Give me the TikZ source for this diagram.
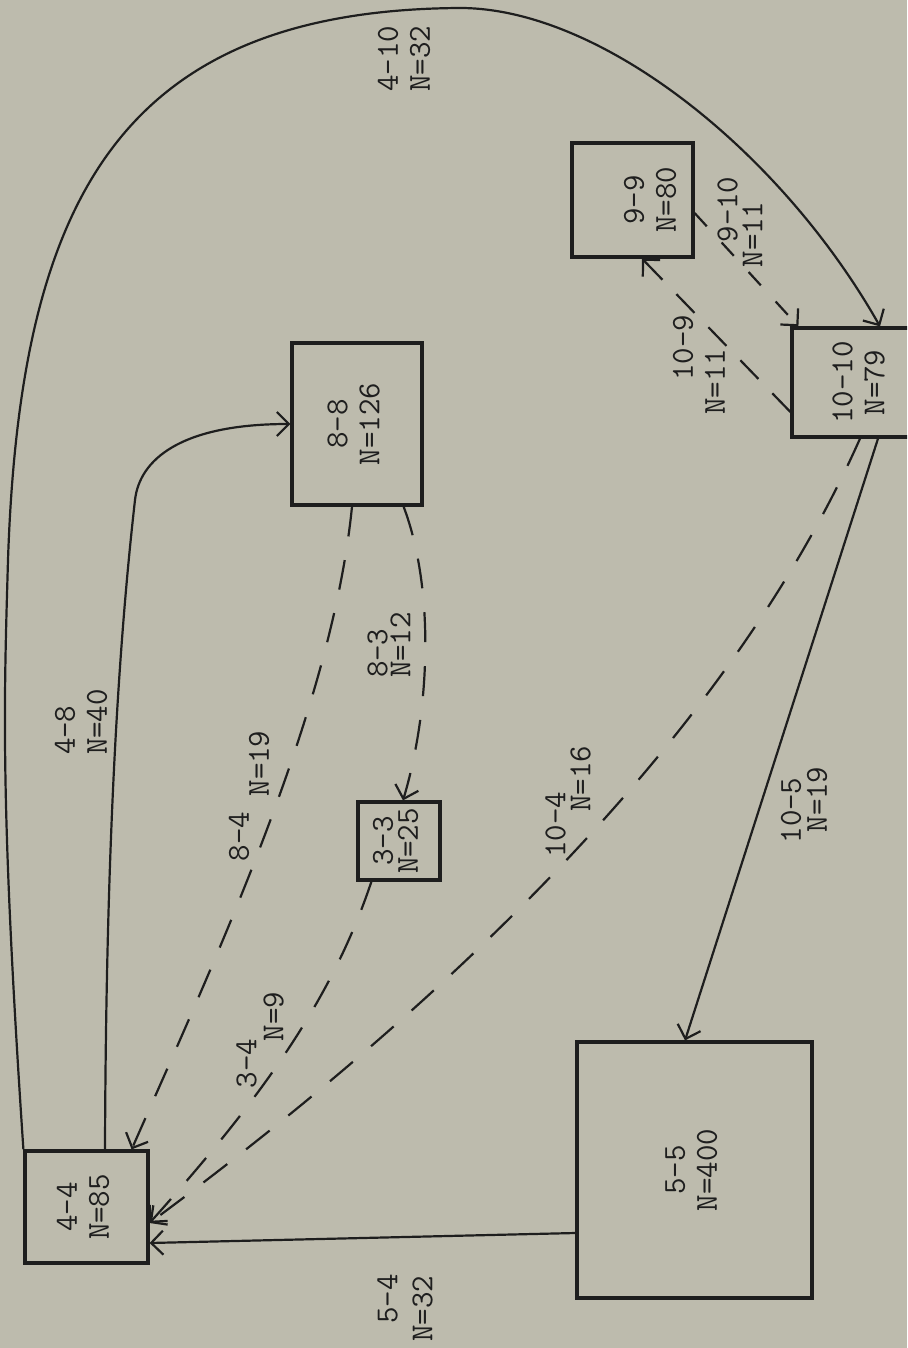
\documentclass[tikz,border=0pt]{standalone}
\usepackage{graphicx}
\usepackage{xcolor}
\usetikzlibrary{arrows.meta}

\definecolor{paper}{HTML}{BDBBAD}
\definecolor{ink}{HTML}{1E1E1E}

% two typed lines, turned to read upwards
\newcommand{\boxtext}[3][0pt]{\rotatebox{90}{\begin{tabular}{@{}c@{}}#2\\[#1]#3\end{tabular}}}

\begin{document}
\begin{tikzpicture}[x=0.5pt, y=-0.5pt,
    every node/.style={font=\fontsize{16}{16}\selectfont\ttfamily, text=ink},
    statebox/.style={draw=ink, line width=1.6pt, inner sep=0pt},
    lbl/.style={rotate=90, align=left, inner sep=0pt},
    flow/.style={draw=ink, line width=1.1pt, -{Straight Barb[length=6pt,width=12pt]}},
    dflow/.style={flow, dash pattern=on 15pt off 12pt}]
    \useasboundingbox (0,0) rectangle (907,1348);
    \fill[paper] (0,0) rectangle (907,1348);
    \clip (0,0) rectangle (907,1348);

    % States
    \node[statebox, minimum width=61.5pt, minimum height=56pt] (n44) at (86.5,1207) {\boxtext{4-4}{N=85}};
    \node[statebox, minimum width=117.5pt, minimum height=128pt] (n55) at (694.5,1170) {\boxtext{5-5}{N=400}};
    \node[statebox, minimum width=41pt, minimum height=39pt] (n33) at (399,841) {\boxtext[-3.5pt]{3-3}{N=25}};
    \node[statebox, minimum width=65pt, minimum height=81pt] (n88) at (357,424) {\boxtext{8-8}{N=126}};
    \node[statebox, minimum width=60.5pt, minimum height=57pt] (n99) at (632.5,200) {\hspace*{21pt}\boxtext{9-9}{N=80}};
    \node[statebox, minimum width=70pt, minimum height=54.5pt] (n1010) at (862,382.5) {\boxtext{10-10}{N=79}};

    % Transitions
    \draw[flow] (n44.north west) .. controls (0,800) and (4,700) .. (8,560)
        .. controls (20,200) and (120,10) .. (460,8)
        .. controls (600,8) and (780,150) .. ([xshift=9pt]n1010.north);
    \draw[flow] ([xshift=9.25pt]n44.north) .. controls (106,850) and (118,650) .. (135,500)
        .. controls (139.5,460) and (180,424) .. (n88.west);
    \draw[dflow] ([xshift=-2.5pt]n88.south) .. controls (332,707) and (220,949) .. ([xshift=-9pt]n44.north east);
    \draw[dflow] ([xshift=-10pt]n88.south east) .. controls (435,590) and (430,710) .. ([xshift=2pt]n33.north);
    \draw[dflow] ([xshift=7.5pt]n33.south west) .. controls (331,1003) and (257,1103) .. ([yshift=-8pt]n44.east);
    \draw[dflow] ([xshift=-1pt]n1010.south) .. controls (743,702) and (500,963) .. ([yshift=-8pt]n44.east);
    \draw[flow] ([xshift=8pt]n1010.south) -- ([xshift=-4.75pt]n55.north);
    \draw[flow] ([yshift=-31.5pt]n55.west) -- ([yshift=-18pt]n44.east);
    \draw[dflow, dash pattern=on 9pt off 11pt] ([yshift=-6.5pt]n99.east) -- ([xshift=4pt]n1010.north west);
    \draw[dflow, dash pattern=on 13pt off 10pt] ([yshift=-14.75pt]n1010.west) -- ([xshift=4.75pt]n99.south);

    % Labels
    \node[lbl] (l410) at (404,59) {4-10\\N=32};
    \node[lbl] (l910) at (740,222) {\hspace*{12.5pt}9-10\\[-3.5pt]N=11};
    \node[lbl] (l109) at (699,365) {\hspace*{17pt}10-9\\N=11};
    \node[lbl] (l48) at (81,722) {4-8\\N=40};
    \node[lbl] (l84) at (249,796) {8-4\\[-6pt]\hspace*{32.5pt}N=19};
    \node[lbl] (l83) at (389,645) {8-3\\[-4.5pt]N=12};
    \node[lbl] (l34) at (260,1040) {3-4\\[-2.5pt]\hspace*{23.5pt}N=9};
    \node[lbl] (l104) at (568,802) {10-4\\[-3.5pt]\hspace*{23pt}N=16};
    \node[lbl] (l105) at (804,805) {10-5\\[-3pt]\hspace*{5.5pt}N=19};
    \node[lbl] (l54) at (405,1308) {\hspace*{9pt}5-4\\[1.5pt]N=32};
\end{tikzpicture}
\end{document}
